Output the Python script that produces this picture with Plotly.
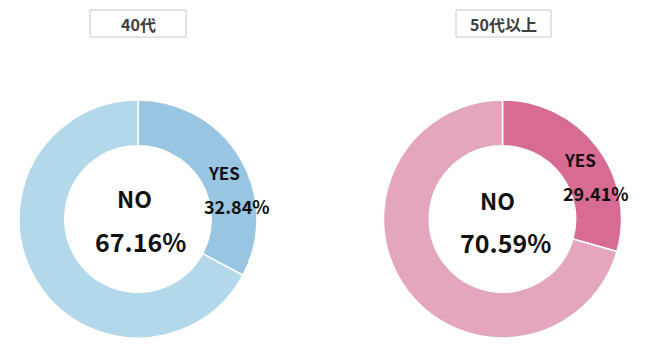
import plotly.graph_objects as go

groups = ["40代", "50代以上"]
labels = ["YES", "NO"]
yes_values = [32.84, 29.41]
no_values = [67.16, 70.59]
colors = [["#98C5E1", "#B3D8EA"], ["#D86B93", "#E4A6BE"]]

W, H = 650, 350
domains_px = [(19, 257), (383, 622)]
y_top, y_bot = 100, 338

fig = go.Figure()
for i, g in enumerate(groups):
    x0, x1 = domains_px[i]
    fig.add_trace(go.Pie(
        labels=labels, values=[yes_values[i], no_values[i]],
        hole=0.615, sort=False, direction="clockwise", rotation=0,
        marker=dict(colors=colors[i], line=dict(color="white", width=1.5)),
        textinfo="none", hoverinfo="label+percent", showlegend=False,
        domain=dict(x=[x0 / W, x1 / W], y=[1 - y_bot / H, 1 - y_top / H]),
    ))

def px(x, y):
    return x / W, 1 - y / H

font_family = "Noto Sans CJK JP, sans-serif"
# title boxes
boxes = [(90, 186), (456, 551)]
for i, g in enumerate(groups):
    bx0, bx1 = boxes[i]
    fig.add_shape(type="rect", xref="paper", yref="paper",
                  x0=bx0 / W, x1=bx1 / W, y0=1 - 37 / H, y1=1 - 10 / H,
                  line=dict(color="#C8C8C8", width=1), fillcolor="white", layer="below")
    cx, cy = px((bx0 + bx1) / 2, 23.5)
    fig.add_annotation(x=cx, y=cy, xref="paper", yref="paper", text=f"<b>{g}</b>",
                       xanchor="center", yanchor="middle",
                       showarrow=False, font=dict(family=font_family, size=16, color="#404040"))

label_pos = [
    {"yes": (224, 172), "yesv": (237, 206), "no": (134, 198), "nov": (140, 241)},
    {"yes": (580, 160), "yesv": (596, 193), "no": (497, 200), "nov": (505, 242)},
]
for i in range(2):
    p = label_pos[i]
    items = [
        (p["yes"], "YES", 17),
        (p["yesv"], f"{yes_values[i]:.2f}%", 18),
        (p["no"], "NO", 23),
        (p["nov"], f"{no_values[i]:.2f}%", 25),
    ]
    for (x, y), t, s in items:
        ax, ay = px(x, y)
        fig.add_annotation(x=ax, y=ay, xref="paper", yref="paper", text=f"<b>{t}</b>",
                           xanchor="center", yanchor="middle",
                           showarrow=False, font=dict(family=font_family, size=s, color="#111111"))

fig.update_layout(width=W, height=H, margin=dict(l=0, r=0, t=0, b=0),
                  paper_bgcolor="white", plot_bgcolor="white")
fig.write_html("out.html")
